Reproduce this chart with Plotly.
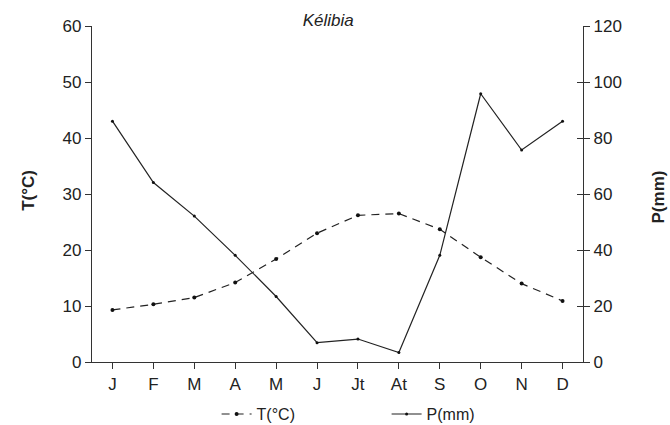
import plotly.graph_objects as go

months = ["J", "F", "M", "A", "M", "J", "Jt", "At", "S", "O", "N", "D"]
temperature = [9.3, 10.3, 11.5, 14.2, 18.4, 23.0, 26.2, 26.5, 23.7, 18.7, 14.0, 10.9]
precipitation = [86.0, 64.1, 52.1, 38.1, 23.4, 6.9, 8.2, 3.4, 38.1, 95.8, 75.7, 86.0]

x = list(range(len(months)))
font = "Liberation Sans, Arial, sans-serif"

fig = go.Figure()
fig.add_trace(go.Scatter(
    x=x, y=temperature, name="T(°C)", mode="lines+markers",
    line=dict(color="#222", width=1.2, dash="8px,6px"),
    marker=dict(color="#111", size=4),
    yaxis="y"))
fig.add_trace(go.Scatter(
    x=x, y=precipitation, name="P(mm)", mode="lines+markers",
    line=dict(color="#222", width=1.2),
    marker=dict(color="#111", size=3),
    yaxis="y2"))
# invisible helper trace so the inner-tick copy of the right axis is drawn
fig.add_trace(go.Scatter(x=[x[0]], y=[precipitation[0]], yaxis="y3", mode="markers",
                         marker=dict(opacity=0), showlegend=False, hoverinfo="skip"))

axis_common = dict(showline=True, linecolor="#333", linewidth=1.2, showgrid=False,
                   zeroline=False, automargin=False, tickcolor="#333", ticklen=6)

fig.update_layout(
    width=670, height=425,
    paper_bgcolor="white", plot_bgcolor="white",
    margin=dict(l=92, r=87, t=26, b=63, autoexpand=False),
    font=dict(family=font, size=17, color="#222"),
    title=dict(text="<i>Kélibia</i>", x=0.49, xanchor="center", y=0.953, yanchor="middle",
               font=dict(size=17, family=font, color="#222")),
    showlegend=True,
    legend=dict(orientation="h", x=0.60, xanchor="center", y=-0.155, yanchor="middle",
                font=dict(size=16, family=font), entrywidth=125, entrywidthmode="pixels",
                tracegroupgap=0, bgcolor="rgba(0,0,0,0)"),
    xaxis=dict(range=[-0.5, 11.5], tickmode="array", tickvals=x, ticktext=months,
               tickson="boundaries", ticks="outside", tickfont=dict(size=17), **axis_common),
    yaxis=dict(range=[0, 60], dtick=10, ticks="outside", tickfont=dict(size=17), **axis_common),
    yaxis2=dict(range=[0, 120], dtick=20, overlaying="y", side="right", anchor="x",
                ticks="outside", tickfont=dict(size=17), **axis_common),
    yaxis3=dict(range=[0, 120], dtick=20, overlaying="y", side="right", anchor="x",
                ticks="inside", showticklabels=False, visible=True, **axis_common),
    annotations=[
        dict(text="<b>T(°C)</b>", xref="paper", yref="paper", x=-0.13, y=0.51,
             xanchor="center", yanchor="middle", textangle=-90, showarrow=False,
             font=dict(size=17)),
        dict(text="<b>P(mm)</b>", xref="paper", yref="paper", x=1.153, y=0.49,
             xanchor="center", yanchor="middle", textangle=-90, showarrow=False,
             font=dict(size=17)),
    ],
)

fig.write_html("out.html", config={"displayModeBar": False},
               post_script="document.body.style.margin='0';")
